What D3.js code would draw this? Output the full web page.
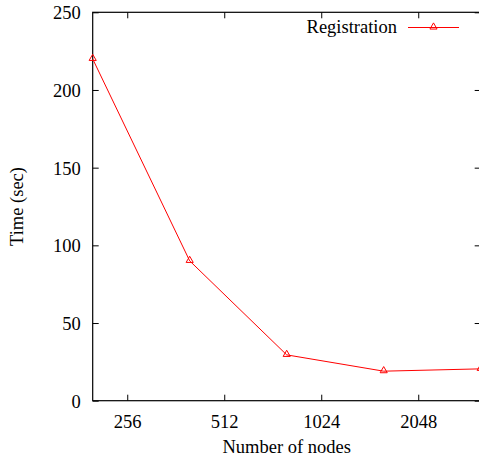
<!DOCTYPE html>
<html>
<head>
<meta charset="utf-8">
<script src="https://cdn.jsdelivr.net/npm/d3@7"></script>
<style>
  body { margin: 0; background: white; }
  svg text { font-family: 'Liberation Serif', serif !important; font-size: 18.5px; fill: black; }
</style>
</head>
<body>
<div id="graph"></div>
<script>
// data
const nodes = [200, 400, 800, 1600, 3200];
const times = [220, 90, 29.5, 19, 20.5];
const xTicks = [256, 512, 1024, 2048];
const yTicks = [0, 50, 100, 150, 200, 250];
const seriesName = "Registration";

const margin = { top: 12.3, left: 92.7 },
  width = 388,
  height = 388.4;

const svg = d3
  .select("#graph")
  .append("svg")
  .attr("width", 479)
  .attr("height", 460)
  .style("font-family", "'Liberation Serif', serif");

const g = svg
  .append("g")
  .attr("transform", "translate(" + margin.left + "," + margin.top + ")");

const x = d3.scaleLog().base(2).domain([200, 3200]).range([0, width]);
const y = d3.scaleLinear().domain([0, 250]).range([height, 0]);

const tickLen = 6;

// bottom axis: ticks point inward
g.append("g")
  .attr("transform", "translate(0," + height + ")")
  .call(d3.axisBottom(x).tickValues(xTicks).tickFormat(d3.format("d")).tickSizeInner(-tickLen).tickSizeOuter(0))
  .call(a => a.select(".domain").remove())
  .call(a => a.selectAll(".tick text").attr("y", 14).attr("dy", "0.71em"));

// top axis mirror ticks
g.append("g")
  .call(d3.axisTop(x).tickValues(xTicks).tickSizeInner(-tickLen).tickSizeOuter(0).tickFormat(""))
  .call(a => a.select(".domain").remove());

// left axis
g.append("g")
  .call(d3.axisLeft(y).tickValues(yTicks).tickSizeInner(-tickLen).tickSizeOuter(0))
  .call(a => a.select(".domain").remove())
  .call(a => a.selectAll(".tick text").attr("x", -12).attr("dy", "0.35em"));

// right axis mirror ticks
g.append("g")
  .attr("transform", "translate(" + width + ",0)")
  .call(d3.axisRight(y).tickValues(yTicks).tickSizeInner(-tickLen).tickSizeOuter(0).tickFormat(""))
  .call(a => a.select(".domain").remove());

// drop d3's default sans-serif font on the axis groups
svg.selectAll("g").attr("font-family", null).attr("font-size", null);

// frame
g.append("rect")
  .attr("x", 0)
  .attr("y", 0)
  .attr("width", width)
  .attr("height", height)
  .attr("fill", "none")
  .attr("stroke", "black")
  .attr("stroke-width", 1.2);

// axis titles
svg.append("text")
  .attr("x", margin.left + width / 2)
  .attr("y", 453)
  .attr("text-anchor", "middle")
  .text("Number of nodes");

svg.append("text")
  .attr("transform", "translate(23," + (margin.top + height / 2) + ") rotate(-90)")
  .attr("text-anchor", "middle")
  .text("Time (sec)");

const data = nodes.map((n, i) => ({ n: n, t: times[i] }));

const tri = d3.symbol().type(d3.symbolTriangle).size(22);

g.append("path")
  .datum(data)
  .attr("fill", "none")
  .attr("stroke", "#ff0000")
  .attr("stroke-width", 1)
  .attr("d", d3.line().x(d => x(d.n)).y(d => y(d.t)));

g.selectAll(".pt")
  .data(data)
  .enter()
  .append("path")
  .attr("class", "pt")
  .attr("d", tri)
  .attr("transform", d => "translate(" + x(d.n) + "," + (y(d.t) - 0.5) + ")")
  .attr("fill", "none")
  .attr("stroke", "#ff0000")
  .attr("stroke-width", 1);

// legend (gnuplot style key, top right)
const key = svg.append("g").attr("id", "legend");
key.append("text")
  .attr("x", 397)
  .attr("y", 33)
  .attr("text-anchor", "end")
  .text(seriesName);
key.append("line")
  .attr("x1", 408)
  .attr("x2", 459)
  .attr("y1", 27.5)
  .attr("y2", 27.5)
  .attr("stroke", "#ff0000")
  .attr("stroke-width", 1);
key.append("path")
  .attr("d", tri)
  .attr("transform", "translate(433.5,27)")
  .attr("fill", "none")
  .attr("stroke", "#ff0000");
</script>
</body>
</html>
